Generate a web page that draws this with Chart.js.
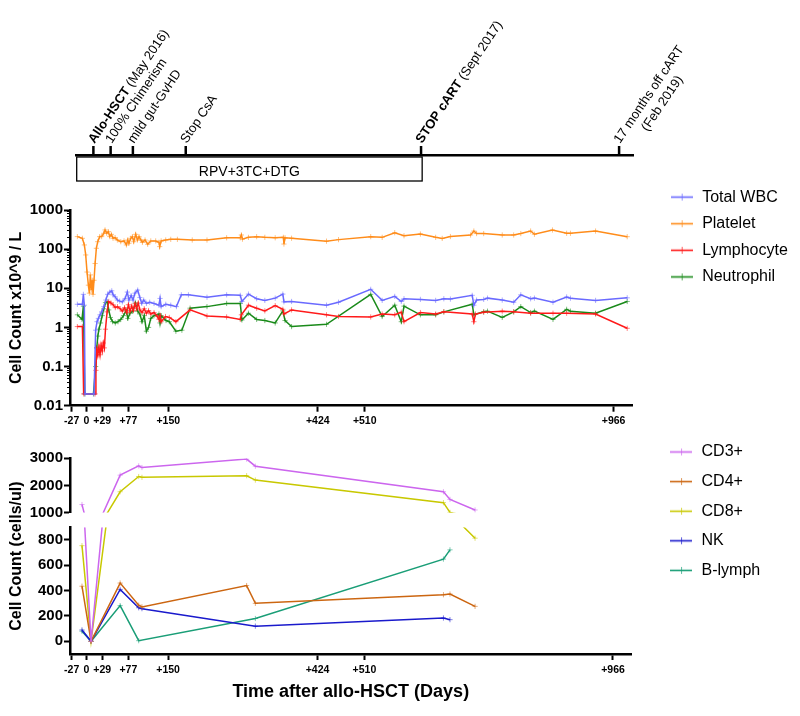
<!DOCTYPE html>
<html><head><meta charset="utf-8">
<script src="https://cdn.jsdelivr.net/npm/chart.js@4.4.1/dist/chart.umd.min.js"></script>
<style>
html,body{margin:0;padding:0;background:#fff;}
#wrap{position:relative;width:800px;height:716px;overflow:hidden;background:#fff;}
canvas{position:absolute;left:0;}
</style></head><body>
<div id="wrap">
<canvas id="tl" width="800" height="190" style="top:0px"></canvas>
<canvas id="mid" width="800" height="270" style="top:170px"></canvas>
<canvas id="bot" width="800" height="296" style="top:420px"></canvas>
</div>
<script>
// ---------- timeline (schematic positions, 0-100) ----------
const timelinePos = [3.0, 6.1, 10.1, 19.6, 61.9, 97.5];
const timelineBold = ['Allo-HSCT', '', '', '', 'STOP cART', ''];
const timelineText = [' (May 2016)', '100% Chimerism', 'mild gut-GvHD', 'Stop CsA', ' (Sept 2017)', '17 months off cART'];
const timelineLine2 = ['', '', '', '', '', '(Feb 2019)'];
const therapySpan = [0, 62.1];
const therapyLabel = 'RPV+3TC+DTG';

// ---------- shared x axis ----------
const xTickValues = [-27, 0, 29, 77, 150, 424, 510, 966];
const xTickLabels = ['-27', '0', '+29', '+77', '+150', '+424', '+510', '+966'];

// ---------- blood counts (x10^9/L) ----------
const logTickValues = [0.01, 0.1, 1, 10, 100, 1000];
const logTickLabels = ['0.01', '0.1', '1', '10', '100', '1000'];

const wbcDays = [-16.5,-7.3,-5.5,-3.7,-2.4,14,17,19.5,22,25,28,32,35.7,39,43,46.5,49,52.6,57,61,66,71,75,78,82,85.5,89,94,98,101.5,105,110,116,124,133,135,137,145.5,154.6,165,174,187,221,257,282,285,297,312,327,346,360,362,376,440,462,521,542,565,577,582,612,640,655,667,707,710,715,728,735,762,783,796,814,821,855,880,887,933,991];
const wbcValues = [3.9,3.9,7.0,3.7,0.02,0.02,0.85,1.4,1.7,2.1,2.5,3.4,5.0,7.0,8.0,8.6,6.8,6.1,5.0,4.7,4.5,5.5,8.0,5.0,6.5,5.0,7.5,9.0,5.8,4.1,5.0,4.1,4.4,4.1,3.7,5.5,3.4,3.9,3.7,3.4,6.8,6.8,5.9,6.8,6.6,4.6,7.1,5.4,4.9,5.6,7.1,4.5,4.6,3.7,4.4,9.4,4.9,6.2,4.6,5.4,5.2,4.9,5.4,5.3,6.6,3.7,5.0,5.2,5.6,5.0,4.4,6.8,5.4,5.6,4.4,6.0,5.6,4.9,5.7];

const pltDays = [-16.5,-7.3,-3.7,-1.2,1.2,3.7,5.5,7.3,9.2,11,12.2,14,16,18.3,20.8,24.4,28,31.8,34.2,37.3,40.3,42.8,45.8,48.9,52.6,56.8,63,69,73.3,75.8,78,81.3,84.3,86.8,90.4,93.5,96.5,100,102.7,107.5,112.4,118,127,133,134.4,137,145.4,154.6,166.8,194,221,257,282,284,286,297,312,327,346,361,362,364,376,440,462,521,542,565,582,612,640,652,667,704,710,715,728,762,783,796,814,821,854,880,887,933,991];
const pltValues = [209,189,128,71,26,12,7.5,22,9.1,16,7.0,16,43,105,155,209,209,254,309,254,280,209,239,189,197,171,155,162,128,171,141,189,209,155,239,171,209,171,149,171,133,162,162,149,116,162,171,178,178,171,171,195,195,230,180,200,208,200,195,200,135,195,190,160,175,208,200,263,220,243,200,188,210,230,290,250,250,230,230,250,290,240,308,254,254,290,208];

const lymDays = [-16.5,-7.3,-5,16,17.5,19,21,23,25,27,29,31,33,35,38,41,45,49,53,57,62,66,70,74,77,80,83,86,89,92,95,98,102,106,110,114,118,124,130,133,135,137,145,152,164,190,221,257,282,284,297,312,327,346,360,362,376,440,462,521,542,565,577,582,612,640,655,707,710,713,728,762,783,814,855,880,933,991];
const lymValues = [1.05,1.05,0.02,0.02,0.08,0.3,0.2,0.32,0.2,0.35,0.25,0.4,0.3,0.9,2.5,4.6,4.2,3.8,3.2,3.4,3.0,2.6,3.2,2.4,3.8,2.6,3.5,2.7,4.0,3.0,4.2,2.8,2.4,3.0,2.3,2.7,2.2,2.4,1.9,1.6,2.0,1.4,1.9,1.8,1.4,2.8,1.95,1.85,1.6,2.1,3.7,3.1,2.65,3.6,2.9,2.2,2.8,2.1,1.9,1.85,2.2,2.1,2.45,1.4,2.4,2.2,2.5,2.2,1.4,2.2,2.45,2.6,2.5,2.3,2.3,2.3,2.2,0.95];

const neuDays = [-16.5,-8,-5.5,-3,13,17,19,21,23,26,29,32,35,38,41,44,48,53,58,63,68,73,76,80,85,90,94,98,102,106,110,114,118,124,133,135,137,146,152,164,175,190,221,257,282,285,297,312,327,346,360,364,376,440,521,542,565,577,582,612,640,655,707,710,728,735,762,783,796,814,821,855,880,887,933,991];
const neuValues = [2.1,1.6,3.5,0.02,0.02,0.1,0.3,0.6,0.9,1.3,2.0,3.0,4.3,4.5,2.8,1.8,1.4,1.3,1.4,1.6,2.0,2.7,1.7,2.3,2.6,4.2,2.6,2.2,1.4,2.0,0.8,1.0,1.7,2.0,2.2,1.3,2.0,1.5,1.4,0.8,0.85,3.1,3.4,4.1,4.1,1.55,2.3,1.6,1.5,1.3,2.65,1.5,1.05,1.2,7.0,1.9,3.7,1.4,3.5,2.1,2.1,2.5,3.9,2.1,2.5,2.6,1.8,2.5,3.4,2.4,2.6,1.6,2.9,2.6,2.3,4.6];

// ---------- lymphocyte subsets (cells/ul) ----------
const lowTickValues = [0, 200, 400, 600, 800];
const lowTickLabels = ['0', '200', '400', '600', '800'];
const highTickValues = [1000, 2000, 3000];
const highTickLabels = ['1000', '2000', '3000'];

const cd3Days = [-8, 8.6, 62, 96, 102, 294, 310, 655, 667, 713];
const cd3Values = [1300, 0, 2380, 2720, 2660, 2970, 2710, 1770, 1490, 1100];
const cd4Days = [-8, 8.6, 62, 96, 102, 294, 310, 655, 667, 713];
const cd4Values = [435, 0, 460, 285, 272, 440, 300, 368, 373, 276];
const cd8Days = [-8, 8.6, 62, 96, 102, 294, 310, 655, 667, 713];
const cd8Values = [755, 0, 1770, 2330, 2300, 2360, 2200, 1370, 1010, 814];
const nkDays = [-8, 8.6, 62, 96, 102, 310, 655, 667];
const nkValues = [90, 0, 410, 265, 258, 120, 184, 171];
const bDays = [-8, 8.6, 62, 96, 310, 655, 667];
const bValues = [80, 0, 282, 5, 180, 649, 722];

// ---------- helpers ----------
const FONT = "'Liberation Sans', Arial, Helvetica, sans-serif";
Chart.defaults.font.family = FONT;
Chart.defaults.color = '#000';

function fade(hex, a) {
  const n = parseInt(hex.slice(1), 16);
  return 'rgba(' + (n >> 16 & 255) + ',' + (n >> 8 & 255) + ',' + (n & 255) + ',' + a + ')';
}
function glyph(color) {
  const c = document.createElement('canvas');
  c.width = 22; c.height = 9;
  const g = c.getContext('2d');
  g.strokeStyle = color; g.lineWidth = 1.6;
  g.beginPath(); g.moveTo(0, 4.5); g.lineTo(22, 4.5); g.stroke();
  g.strokeStyle = fade(color, 0.7); g.lineWidth = 1;
  g.beginPath(); g.moveTo(11.5, 1); g.lineTo(11.5, 8); g.stroke();
  return c;
}
function series(label, days, vals, color, yAxisID) {
  return {
    label, data: days.map((d, i) => ({x: d, y: vals[i]})),
    borderColor: color, backgroundColor: color, borderWidth: 1.5,
    pointStyle: 'cross', pointRadius: 2.6, pointBorderWidth: 1,
    pointBorderColor: fade(color, 0.55), pointHoverRadius: 0,
    xAxisID: 'x', yAxisID
  };
}
function spacer(position, size) {
  const s = {type: 'linear', position, display: true,
    grid: {display: true, drawOnChartArea: false, drawTicks: false},
    border: {display: false}, ticks: {display: false}};
  if (position === 'top' || position === 'bottom') s.afterFit = sc => { sc.height = size; };
  else s.afterFit = sc => { sc.width = size; };
  return s;
}
function xAxis(height, withTitle) {
  const ax = {
    type: 'linear', position: 'bottom', min: -30, max: 1000,
    afterFit: s => { s.height = height; },
    afterBuildTicks: s => { s.ticks = xTickValues.map(v => ({value: v})); },
    ticks: {autoSkip: false, maxRotation: 0, minRotation: 0, padding: 3.5,
      font: {size: 10.5, weight: 'bold'}, color: '#000',
      callback: (v, i) => xTickLabels[i]},
    grid: {display: true, drawOnChartArea: false, tickLength: 6, tickWidth: 2, tickColor: '#000'},
    border: {display: true, width: 2.5, color: '#000'}
  };
  if (withTitle) ax.title = {display: true, text: 'Time after allo-HSCT (Days)',
    font: {size: 18, weight: 'bold'}, color: '#000', padding: {top: 0, bottom: 13}};
  return ax;
}
function legendCfg(pad, count) {
  return {
    position: 'right', align: 'start', maxWidth: 300,
    labels: {
      usePointStyle: true, pointStyleWidth: 25, padding: pad,
      font: {size: 16, family: FONT}, color: '#111',
      generateLabels: chart => chart.data.datasets.slice(0, count).map((ds, i) => ({
        text: ds.label, pointStyle: glyph(ds.borderColor), datasetIndex: i,
        hidden: false, lineWidth: 0, fillStyle: ds.borderColor, strokeStyle: ds.borderColor
      }))
    }
  };
}
const isPow10 = v => Math.abs(Math.log10(v) - Math.round(Math.log10(v))) < 1e-6;

// ---------- timeline chart ----------
const timelinePlugin = {
  id: 'timelineMarks',
  afterDraw(chart) {
    const ctx = chart.ctx, xs = chart.scales.x, base = chart.chartArea.bottom;
    ctx.save();
    ctx.strokeStyle = '#000'; ctx.fillStyle = '#000';
    ctx.lineWidth = 2.5;
    timelinePos.forEach(p => {
      const px = xs.getPixelForValue(p);
      ctx.beginPath(); ctx.moveTo(px, base); ctx.lineTo(px, base - 9); ctx.stroke();
    });
    const ang = -56 * Math.PI / 180;
    const bold = 'bold 13px ' + FONT, norm = '13px ' + FONT;
    ctx.textBaseline = 'alphabetic'; ctx.textAlign = 'left';
    timelinePos.forEach((p, i) => {
      const px = xs.getPixelForValue(p);
      ctx.save();
      ctx.translate(px + 1, base - 11);
      ctx.rotate(ang);
      ctx.font = bold;
      const wb = timelineBold[i] ? ctx.measureText(timelineBold[i]).width : 0;
      if (timelineBold[i]) ctx.fillText(timelineBold[i], 0, 0);
      ctx.font = norm;
      ctx.fillText(timelineText[i], wb, 0);
      if (timelineLine2[i]) {
        const w1 = wb + ctx.measureText(timelineText[i]).width;
        const w2 = ctx.measureText(timelineLine2[i]).width;
        ctx.fillText(timelineLine2[i], (w1 - w2) / 2, 16);
      }
      ctx.restore();
    });
    const x0 = xs.getPixelForValue(therapySpan[0]), x1 = xs.getPixelForValue(therapySpan[1]);
    ctx.lineWidth = 1.3;
    ctx.strokeRect(x0, base + 2, x1 - x0, 24);
    ctx.font = '14px ' + FONT; ctx.textAlign = 'center'; ctx.textBaseline = 'middle';
    ctx.fillText(therapyLabel, (x0 + x1) / 2, base + 17);
    ctx.restore();
  }
};
new Chart(document.getElementById('tl'), {
  type: 'scatter',
  data: {datasets: []},
  options: {
    responsive: false, animation: false, events: [],
    layout: {padding: {left: 76.7, right: 167, top: 0, bottom: 0}},
    scales: {
      x: {type: 'linear', min: 0, max: 100, position: 'bottom', display: true,
        afterFit: s => { s.height = 35; },
        grid: {display: true, drawOnChartArea: false, drawTicks: false},
        ticks: {display: false}, border: {display: true, width: 2.5, color: '#000'}},
      y: {display: false, min: 0, max: 1}
    },
    plugins: {legend: {display: false}, tooltip: {enabled: false}}
  },
  plugins: [timelinePlugin]
});

// ---------- middle chart (log) ----------
new Chart(document.getElementById('mid'), {
  type: 'line',
  data: {datasets: [
    series('Total WBC', wbcDays, wbcValues, '#6a6aff', 'y'),
    series('Platelet', pltDays, pltValues, '#ff8c1a', 'y'),
    series('Lymphocyte', lymDays, lymValues, '#ff1a1a', 'y'),
    series('Neutrophil', neuDays, neuValues, '#1a8a1a', 'y')
  ]},
  options: {
    responsive: false, animation: false, events: [],
    layout: {padding: {top: 8.5, left: 0, right: 2.2, bottom: 0}},
    scales: {
      x: xAxis(34.3, false),
      y: {
        type: 'logarithmic', position: 'left', min: 0.01, max: 1000,
        afterFit: s => { s.width = 70; },
        afterBuildTicks: s => {
          const t = [];
          logTickValues.forEach((v, i) => {
            t.push({value: v});
            if (i < logTickValues.length - 1) for (let k = 2; k <= 9; k++) t.push({value: +(v * k).toPrecision(6)});
          });
          s.ticks = t;
        },
        ticks: {autoSkip: false, padding: 1, font: {size: 15, weight: 'bold'}, color: '#000',
          callback: v => { const i = logTickValues.findIndex(t => Math.abs(t - v) < t * 1e-6); return i >= 0 ? logTickLabels[i] : ''; }},
        grid: {display: true, drawOnChartArea: false, tickLength: 6, tickColor: '#000',
          tickWidth: c => (c.tick && isPow10(c.tick.value)) ? 2 : 1,
          tickBorderDash: c => (c.tick && isPow10(c.tick.value)) ? [] : [0, 3, 3, 20]},
        border: {display: true, width: 2.5, color: '#000'},
        title: {display: true, text: 'Cell Count x10^9 / L', font: {size: 16, weight: 'bold'}, color: '#000', padding: {top: 7.4, bottom: 0}}
      },
      xSpace: spacer('top', 31.5),
      ySpace: spacer('right', 26.4)
    },
    plugins: {legend: legendCfg(10.6, 4), tooltip: {enabled: false}}
  }
});

// ---------- bottom chart (broken linear axis) ----------
const clipToOwnScale = {
  id: 'clipToOwnScale',
  beforeDatasetDraw(chart, args) {
    const ys = args.meta.yScale, a = chart.chartArea, ctx = chart.ctx;
    ctx.save();
    ctx.beginPath();
    ctx.rect(a.left - 6, ys.top, a.right - a.left + 12, ys.bottom - ys.top);
    ctx.clip();
  },
  afterDatasetDraw(chart) { chart.ctx.restore(); }
};
function yPart(weight, min, max, vals, labels) {
  return {
    type: 'linear', position: 'left', stack: 'cells', stackWeight: weight, min, max,
    afterFit: s => { s.width = 40; },
    afterBuildTicks: s => { s.ticks = vals.map(v => ({value: v})); },
    ticks: {autoSkip: false, padding: 1, font: {size: 15, weight: 'bold'}, color: '#000',
      callback: (v, i) => labels[i]},
    grid: {display: true, drawOnChartArea: false, tickLength: 6, tickWidth: 2, tickColor: '#000'},
    border: {display: true, width: 2.5, color: '#000'}
  };
}
const subsetCols = ['#cc66ee', '#cc6611', '#c8c800', '#1a1acc', '#1a9e77'];
const subsetNames = ['CD3+', 'CD4+', 'CD8+', 'NK', 'B-lymph'];
const subsetDays = [cd3Days, cd4Days, cd8Days, nkDays, bDays];
const subsetVals = [cd3Values, cd4Values, cd8Values, nkValues, bValues];
const bottomSets = [];
['yLow', 'yHigh'].forEach(ax => subsetNames.forEach((n, i) =>
  bottomSets.push(series(n, subsetDays[i], subsetVals[i], subsetCols[i], ax))));
const gapAxis = spacer('left', 40);
gapAxis.stack = 'cells'; gapAxis.stackWeight = 14.6;
const titleAxis = spacer('left', 30);
titleAxis.weight = 10;
titleAxis.title = {display: true, text: 'Cell Count (cells/ul)', font: {size: 16, weight: 'bold'}, color: '#000', padding: {top: 7.4, bottom: 0}};

new Chart(document.getElementById('bot'), {
  type: 'line',
  data: {datasets: bottomSets},
  options: {
    responsive: false, animation: false, events: [],
    layout: {padding: {top: 10.4, left: 0, right: 29.8, bottom: 0}},
    scales: {
      x: xAxis(62, true),
      yLow: yPart(126.7, -100, 900, lowTickValues, lowTickLabels),
      yGap: gapAxis,
      yHigh: yPart(54.4, 1000, 3000, highTickValues, highTickLabels),
      yTitle: titleAxis,
      xSpace: spacer('top', 27.9),
      ySpace: spacer('right', 23.4)
    },
    plugins: {legend: legendCfg(13.6, 5), tooltip: {enabled: false}}
  },
  plugins: [clipToOwnScale]
});
</script>
</body></html>
